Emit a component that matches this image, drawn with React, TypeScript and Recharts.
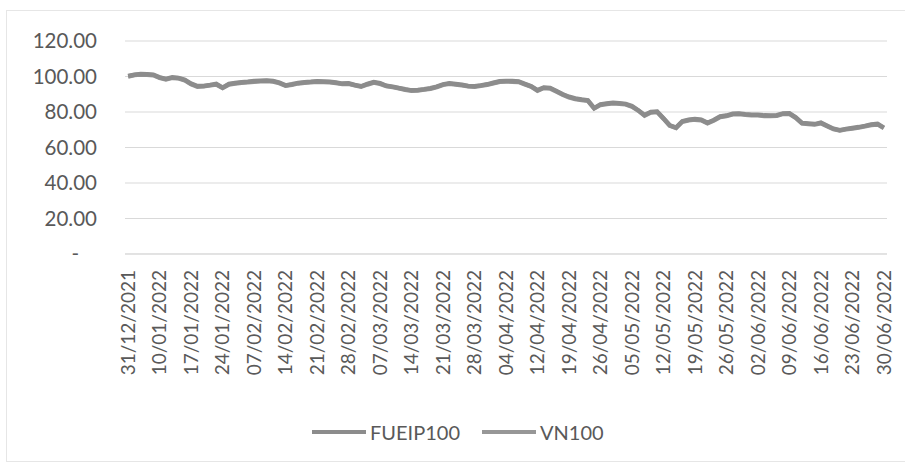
import { LineChart, Line, XAxis, YAxis, CartesianGrid } from "recharts"

const DATES = [
  "31/12/2021", "10/01/2022", "17/01/2022", "24/01/2022", "07/02/2022",
  "14/02/2022", "21/02/2022", "28/02/2022", "07/03/2022", "14/03/2022",
  "21/03/2022", "28/03/2022", "04/04/2022", "12/04/2022", "19/04/2022",
  "26/04/2022", "05/05/2022", "12/05/2022", "19/05/2022", "26/05/2022",
  "02/06/2022", "09/06/2022", "16/06/2022", "23/06/2022", "30/06/2022",
]

// one value per trading day, every 5th day is labelled
const FUEIP100 = [
  100.3, 101.0, 101.4, 101.2, 101.0, 99.5, 98.6, 99.5, 99.2, 98.1,
  96.0, 94.6, 94.7, 95.2, 95.8, 93.7, 95.8, 96.3, 96.8, 97.0,
  97.4, 97.6, 97.8, 97.5, 96.6, 95.0, 95.6, 96.4, 96.8, 97.0,
  97.3, 97.2, 97.0, 96.6, 96.0, 96.2, 95.2, 94.5, 95.8, 96.9,
  96.2, 94.8, 94.3, 93.5, 92.8, 92.2, 92.4, 92.8, 93.4, 94.3,
  95.6, 96.2, 95.8, 95.3, 94.7, 94.5, 95.0, 95.6, 96.5, 97.3,
  97.5, 97.4, 97.2, 95.8, 94.5, 92.3, 93.8, 93.6, 91.8, 90.0,
  88.6, 87.6, 87.0, 86.6, 82.2, 84.3, 84.8, 85.2, 85.0, 84.6,
  83.3, 81.0, 78.3, 80.0, 80.3, 76.5, 72.5, 71.2, 74.8, 75.6,
  76.0, 75.7, 73.9, 75.5, 77.5, 78.0, 79.0, 79.2, 78.8, 78.5,
  78.4, 78.1, 78.0, 78.2, 79.2, 79.3, 77.0, 73.8, 73.5, 73.2,
  74.0, 72.3, 70.6, 69.8, 70.5, 71.0, 71.5, 72.2, 73.0, 73.3,
  71.2,
]

const VN100 = [
  100.0, 100.8, 101.1, 101.0, 100.7, 99.3, 98.3, 99.2, 99.0, 97.8,
  95.7, 94.3, 94.5, 95.0, 95.5, 93.5, 95.5, 96.0, 96.5, 96.8,
  97.1, 97.3, 97.5, 97.2, 96.3, 94.8, 95.3, 96.1, 96.5, 96.7,
  97.0, 96.9, 96.7, 96.3, 95.8, 95.9, 95.0, 94.3, 95.5, 96.6,
  95.9, 94.6, 94.0, 93.3, 92.5, 92.0, 92.1, 92.6, 93.1, 94.0,
  95.3, 95.9, 95.5, 95.0, 94.5, 94.2, 94.8, 95.3, 96.2, 97.0,
  97.2, 97.1, 96.9, 95.5, 94.3, 92.0, 93.5, 93.3, 91.5, 89.8,
  88.3, 87.3, 86.8, 86.3, 82.0, 84.0, 84.5, 84.9, 84.7, 84.3,
  83.0, 80.8, 78.0, 79.7, 80.0, 76.3, 72.3, 71.0, 74.5, 75.3,
  75.7, 75.4, 73.7, 75.2, 77.2, 77.7, 78.7, 78.9, 78.5, 78.2,
  78.1, 77.8, 77.7, 77.9, 78.9, 79.0, 76.7, 73.6, 73.2, 72.9,
  73.7, 72.0, 70.3, 69.6, 70.2, 70.7, 71.2, 71.9, 72.7, 73.0,
  70.9,
]

const Y_TICKS = [0, 20, 40, 60, 80, 100, 120]

const data = FUEIP100.map((v, i) => ({ i, fueip: v, vn: VN100[i] }))
const xTicks = DATES.map((_, k) => k * 5)

const FONT = "Lato, 'Open Sans', sans-serif"
const TEXT = "#595959"
const LINE_A = "#8c8c8c"
const LINE_B = "#979797"

function YTick({ x, y, payload }: any) {
  const zero = payload.value === 0
  return (
    <text
      x={zero ? x - 18 : x}
      y={y}
      dy="0.35em"
      textAnchor="end"
      fill={TEXT}
      fontSize={20.5}
      fontFamily={FONT}
    >
      {zero ? "-" : payload.value.toFixed(2)}
    </text>
  )
}

function XTick({ x, y, payload }: any) {
  return (
    <text
      x={0}
      y={0}
      dy="0.35em"
      textAnchor="end"
      transform={`translate(${x},${y + 8}) rotate(-90)`}
      fill={TEXT}
      fontSize={19}
      fontFamily={FONT}
    >
      {DATES[Math.round(payload.value / 5)]}
    </text>
  )
}

function LegendItem({ label, color }: { label: string; color: string }) {
  return (
    <div style={{ display: "flex", alignItems: "center", marginRight: 22 }}>
      <svg width={54} height={10}>
        <line x1={0} y1={5} x2={54} y2={5} stroke={color} strokeWidth={4} />
      </svg>
      <span style={{ marginLeft: 4 }}>{label}</span>
    </div>
  )
}

export default function App() {
  return (
    <div
      style={{
        position: "absolute",
        left: 0,
        top: 0,
        width: 905,
        height: 467,
        background: "#fff",
        overflow: "hidden",
      }}
    >
      <div
        style={{
          position: "absolute",
          left: 6,
          top: 10,
          width: 905,
          height: 450,
          border: "1px solid #e6e6e6",
        }}
      />
      <div style={{ position: "absolute", left: 0, top: 0 }}>
        <LineChart
          width={905}
          height={467}
          data={data}
          margin={{ top: 41, right: 18, bottom: 93, left: 0 }}
        >
          <CartesianGrid vertical={false} stroke="#d9d9d9" strokeWidth={1} />
          <XAxis
            dataKey="i"
            type="number"
            domain={[-0.5, 120.5]}
            ticks={xTicks}
            interval={0}
            height={120}
            axisLine={{ stroke: "#d9d9d9" }}
            tickLine={false}
            tick={<XTick />}
          />
          <YAxis
            domain={[0, 120]}
            ticks={Y_TICKS}
            width={125}
            axisLine={false}
            tickLine={false}
            tickSize={0}
            tickMargin={28}
            tick={<YTick />}
          />
          <Line
            dataKey="vn"
            stroke={LINE_B}
            strokeWidth={4.5}
            dot={false}
            isAnimationActive={false}
          />
          <Line
            dataKey="fueip"
            stroke={LINE_A}
            strokeWidth={4.5}
            dot={false}
            isAnimationActive={false}
          />
        </LineChart>
      </div>
      <div
        style={{
          position: "absolute",
          left: 312,
          top: 420,
          display: "flex",
          fontFamily: FONT,
          fontSize: 20,
          color: TEXT,
        }}
      >
        <LegendItem label="FUEIP100" color={LINE_A} />
        <LegendItem label="VN100" color={LINE_B} />
      </div>
    </div>
  )
}
